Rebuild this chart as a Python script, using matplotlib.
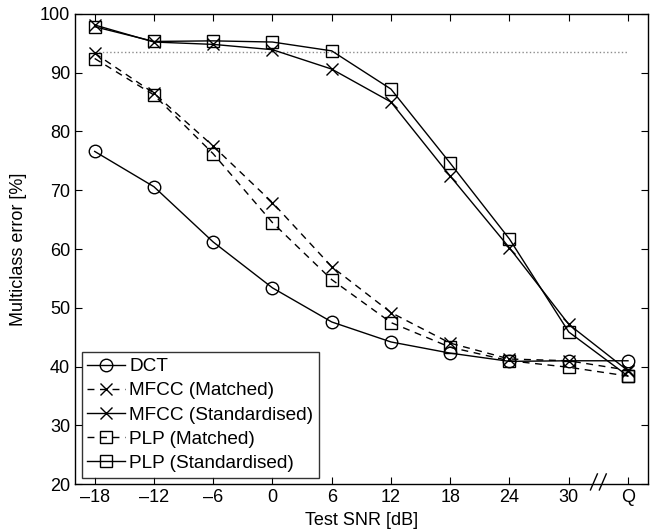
import matplotlib.pyplot as plt
from matplotlib.transforms import blended_transform_factory

plt.rcParams['font.family'] = ['Liberation Sans', 'DejaVu Sans']
plt.rcParams['axes.unicode_minus'] = True

# Test SNR positions; "Q" (quiet) sits at 36
snr = [-18, -12, -6, 0, 6, 12, 18, 24, 30, 36]
snr_labels = ['\u201318', '\u201312', '\u20136', '0', '6', '12', '18', '24', '30', 'Q']

dct = [76.6, 70.6, 61.2, 53.4, 47.6, 44.2, 42.3, 40.9, 41.0, 41.0]
mfcc_matched = [93.3, 86.5, 77.5, 67.9, 57.0, 49.2, 44.0, 41.3, 41.0, 39.4]
mfcc_std = [98.1, 95.2, 94.8, 93.9, 90.6, 85.0, 72.4, 60.2, 47.2, 39.3]
plp_matched = [92.4, 86.2, 76.2, 64.5, 54.8, 47.5, 43.3, 41.0, 39.9, 38.4]
plp_std = [97.8, 95.3, 95.4, 95.2, 93.7, 87.2, 74.6, 61.7, 45.9, 38.4]
chance_level = 93.5

fig = plt.figure(figsize=(6.63, 5.31), dpi=100)
ax = fig.add_axes([0.113, 0.088, 0.864, 0.886])

ax.plot([snr[0], snr[-1]], [chance_level, chance_level], ':', color='0.55', lw=1)

kw = dict(color='black', lw=1, mfc='none', mec='black', mew=1)
ax.plot(snr, dct, '-', marker='o', ms=9, label='DCT', **kw)
ax.plot(snr, mfcc_matched, '--', marker='x', ms=8, label='MFCC (Matched)', dashes=(5, 4), **kw)
ax.plot(snr, mfcc_std, '-', marker='x', ms=8, label='MFCC (Standardised)', **kw)
ax.plot(snr, plp_matched, '--', marker='s', ms=8.5, label='PLP (Matched)', dashes=(5, 4), **kw)
ax.plot(snr, plp_std, '-', marker='s', ms=8.5, label='PLP (Standardised)', **kw)

ax.set_xlim(-20, 38)
ax.set_ylim(20, 100)
ax.set_xticks(snr)
ax.set_xticklabels(snr_labels)
ax.set_yticks(range(20, 101, 10))
ax.tick_params(direction='in', top=True, right=True, labelsize=13, length=5)
for s in ax.spines.values():
    s.set_linewidth(1)

ax.set_xlabel('Test SNR [dB]', fontsize=13, labelpad=4)
ax.set_ylabel('Multiclass error [%]', fontsize=13, labelpad=9)

# axis break between 30 and Q
tr = blended_transform_factory(ax.transData, ax.transAxes)
for dx in (-0.45, 0.45):
    ax.plot([33 + dx - 0.35, 33 + dx + 0.35], [-0.012, 0.022], color='black',
            lw=1, transform=tr, clip_on=False)

leg = ax.legend(loc='lower left', fontsize=13.7, frameon=True, fancybox=False,
                edgecolor='black', handlelength=2.0, handletextpad=0.2,
                borderpad=0.3, labelspacing=0.36, borderaxespad=0.35)
leg.get_frame().set_linewidth(1)

fig.savefig('out.png', dpi=100)
